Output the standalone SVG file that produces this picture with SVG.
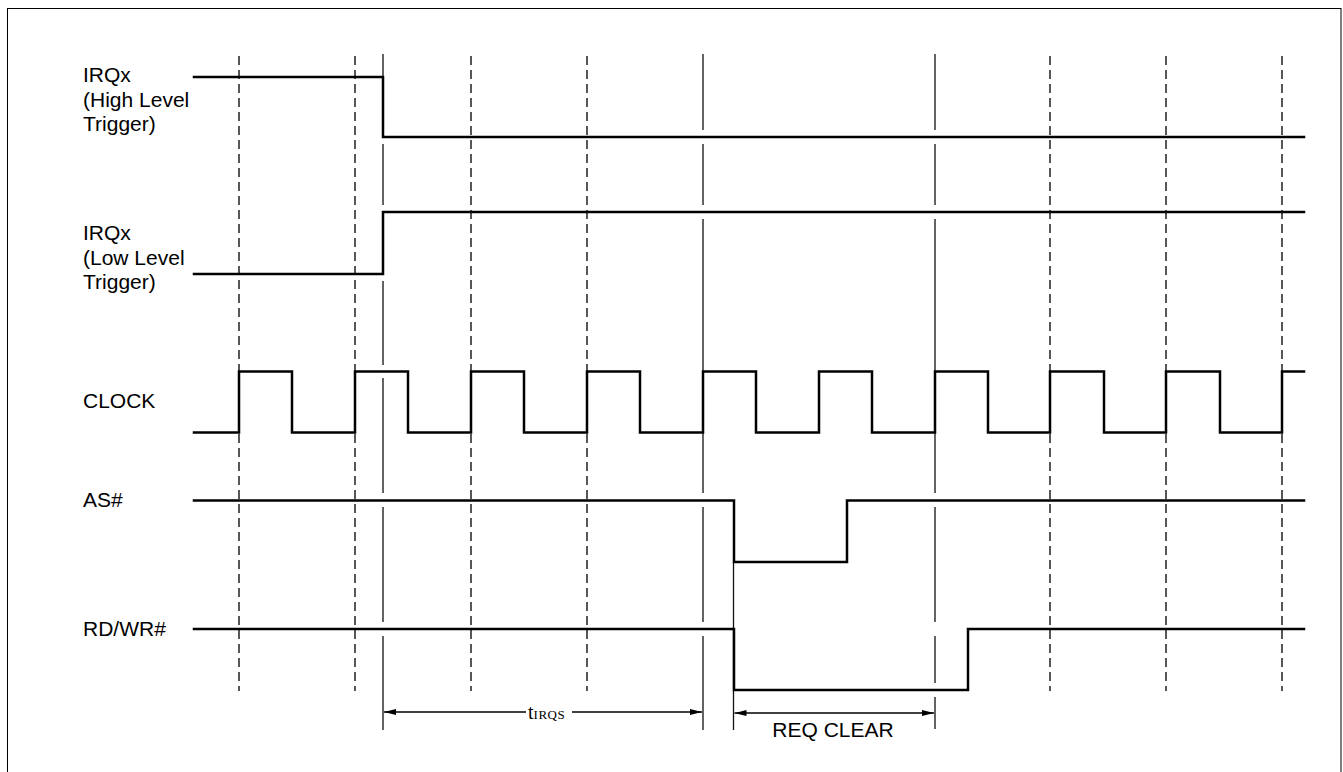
<svg xmlns="http://www.w3.org/2000/svg" width="1343" height="772" viewBox="0 0 1343 772">
<style>
.sig{fill:none;stroke:#000;stroke-width:2.5;stroke-linejoin:miter;stroke-linecap:square}
.dash{stroke:#111;stroke-width:1.4;stroke-dasharray:9 5}
.ref{stroke:#111;stroke-width:1.3}
.lbl{font-family:"Liberation Sans",Arial,sans-serif;font-size:21px;fill:#000}
.dim{stroke:#000;stroke-width:1.3}
</style>
<defs>
<marker id="ah" markerUnits="userSpaceOnUse" markerWidth="12" markerHeight="6" refX="12" refY="3" orient="auto-start-reverse">
<path d="M0,0 L12,3 L0,6 z" fill="#000"/>
</marker>
</defs>
<rect x="7.5" y="8.5" width="1333.5" height="780" fill="#fff" stroke="#000" stroke-width="1"/>

<g id="gridlines">
<line class="dash" x1="239" y1="56" x2="239" y2="691"/>
<line class="dash" x1="355" y1="56" x2="355" y2="691"/>
<line class="dash" x1="471" y1="56" x2="471" y2="691"/>
<line class="dash" x1="587" y1="56" x2="587" y2="691"/>
<line class="dash" x1="1050" y1="56" x2="1050" y2="691"/>
<line class="dash" x1="1166" y1="56" x2="1166" y2="691"/>
<line class="dash" x1="1282" y1="56" x2="1282" y2="691"/>
<path class="ref" d="M383,54V130 M383,144V205 M383,281V365 M383,378V493 M383,507V622 M383,636V730"/>
<path class="ref" d="M703,54V130 M703,144V205 M703,219V493 M703,507V622 M703,636V730"/>
<path class="ref" d="M935,54V130 M935,144V205 M935,219V493 M935,507V622 M935,636V683 M935,697V729"/>
<path class="ref" d="M733.5,562V730"/>
</g>

<g id="irq-high">
<text class="lbl" x="83" y="82">IRQx</text>
<text class="lbl" x="83" y="107">(High Level</text>
<text class="lbl" x="83" y="131">Trigger)</text>
<path class="sig" d="M194,77H383V137H1304"/>
</g>

<g id="irq-low">
<text class="lbl" x="83" y="240">IRQx</text>
<text class="lbl" x="83" y="265">(Low Level</text>
<text class="lbl" x="83" y="289">Trigger)</text>
<path class="sig" d="M194,274H383V212H1304"/>
</g>

<g id="clock">
<text class="lbl" x="83" y="408">CLOCK</text>
<path class="sig" d="M194,432.5H239V371.5H292V432.5H355V371.5H408V432.5H471V371.5H524V432.5H587V371.5H640V432.5H703V371.5H756V432.5H819V371.5H872V432.5H935V371.5H988V432.5H1050V371.5H1104V432.5H1166V371.5H1220V432.5H1282V371.5H1304"/>
</g>

<g id="as">
<text class="lbl" x="83" y="507">AS#</text>
<path class="sig" d="M194,500.5H734V562H847V500.5H1304"/>
</g>

<g id="rdwr">
<text class="lbl" x="83" y="636">RD/WR#</text>
<path class="sig" d="M194,629H734V690H968V629H1304"/>
</g>

<g id="connectors">
<line class="dim" x1="384" y1="712" x2="526" y2="712" marker-start="url(#ah)"/>
<line class="dim" x1="572" y1="712" x2="702" y2="712" marker-end="url(#ah)"/>
<line class="dim" x1="734.5" y1="713" x2="934" y2="713" marker-start="url(#ah)" marker-end="url(#ah)"/>
</g>

<g id="labels">
<text x="528" y="719" font-family="'Liberation Serif','Times New Roman',serif" fill="#000"><tspan font-size="20">t</tspan><tspan font-size="13" letter-spacing="0.5">IRQS</tspan></text>
<text class="lbl" x="833" y="737" text-anchor="middle">REQ CLEAR</text>
</g>
</svg>
